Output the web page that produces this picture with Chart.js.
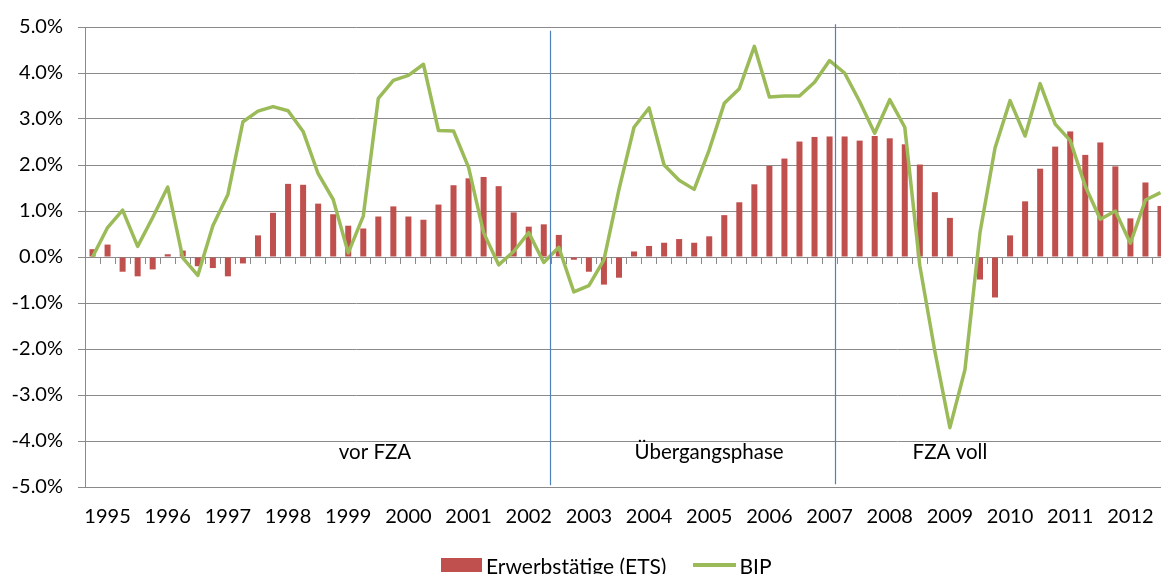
<!DOCTYPE html>
<html><head><meta charset="utf-8">
<script src="https://cdn.jsdelivr.net/npm/chart.js@4/dist/chart.umd.min.js"></script>
<style>
html,body{margin:0;padding:0;overflow:hidden;background:#fff;width:1161px;height:574px}
#wrap{position:relative;width:1180px;height:574px}
#legend{position:absolute;left:441px;top:555px;font-family:Lato,"Open Sans",sans-serif;font-size:21px;color:#000;white-space:nowrap;display:flex;align-items:center;height:20px}
#legend .box{display:inline-block;width:41px;height:14px;background:#C0504D;margin-right:4px}
#legend .ln{display:inline-block;width:43px;height:3.5px;background:#9BBB59;margin-left:27px;margin-right:3px}
</style></head>
<body>
<div id="wrap">
<canvas id="c" width="1180" height="574"></canvas>
<div id="legend"><span class="box"></span><span>Erwerbstätige (ETS)</span><span class="ln"></span><span>BIP</span></div>
</div>
<script>
const years = [1995,1996,1997,1998,1999,2000,2001,2002,2003,2004,2005,2006,2007,2008,2009,2010,2011,2012];
const quarterNames = ['Q1','Q2','Q3','Q4'];
const categories = [];
years.forEach(y => quarterNames.forEach(q => categories.push(y + ' ' + q)));

const ets = [
  0.17, 0.27, -0.32, -0.42,
  -0.27, 0.06, 0.14, -0.20,
  -0.24, -0.42, -0.14, 0.47,
  0.96, 1.59, 1.57, 1.16,
  0.93, 0.68, 0.62, 0.88,
  1.10, 0.88, 0.81, 1.14,
  1.56, 1.71, 1.74, 1.54,
  0.97, 0.66, 0.71, 0.48,
  -0.06, -0.32, -0.60, -0.45,
  0.12, 0.24, 0.31, 0.39,
  0.31, 0.45, 0.91, 1.19,
  1.58, 1.98, 2.14, 2.51,
  2.61, 2.62, 2.62, 2.53,
  2.63, 2.58, 2.45, 2.01,
  1.41, 0.85, 0.00, -0.49,
  -0.88, 0.47, 1.21, 1.92,
  2.40, 2.73, 2.22, 2.49,
  1.97, 0.84, 1.62, 1.11
];
const bip = [
  0.00, 0.64, 1.02, 0.23,
  0.86, 1.52, -0.02, -0.40,
  0.68, 1.36, 2.94, 3.17,
  3.27, 3.18, 2.73, 1.81,
  1.25, 0.09, 0.89, 3.45,
  3.84, 3.95, 4.19, 2.75,
  2.74, 1.95, 0.53, -0.17,
  0.12, 0.53, -0.12, 0.21,
  -0.76, -0.62, -0.06, 1.47,
  2.82, 3.24, 2.00, 1.67,
  1.47, 2.33, 3.34, 3.66,
  4.58, 3.48, 3.50, 3.50,
  3.80, 4.27, 4.00, 3.38,
  2.69, 3.42, 2.82, -0.19,
  -2.05, -3.71, -2.45, 0.53,
  2.37, 3.40, 2.63, 3.77,
  2.89, 2.53, 1.54, 0.82,
  1.00, 0.30, 1.24, 1.40
];
const yTickValues = [-5,-4,-3,-2,-1,0,1,2,3,4,5];
const phaseBreaks = [30.42, 49.39];          // category index positions (June 2002, June 2007)
const phaseBreakTop = [4.92, 5.06];
const phaseBreakBottom = [-4.96, -4.94];
const phaseNames = ['vor FZA', 'Übergangsphase', 'FZA voll'];
const phaseNamePos = [18.78, 40.99, 57.0];
const phaseNameY = -4.25;

const FONT = 'Lato, "Open Sans", sans-serif';
const GRID = '#8a8a8a';

const phasePlugin = {
  id: 'phases',
  afterDatasetsDraw(chart) {
    const ctx = chart.ctx, xs = chart.scales.x, ys = chart.scales.y;
    ctx.save();
    ctx.strokeStyle = '#4F81BD';
    ctx.lineWidth = 1.2;
    phaseBreaks.forEach((p, i) => {
      const x = Math.round(xs.getPixelForValue(p)) + 0.5;
      ctx.beginPath();
      ctx.moveTo(x, ys.getPixelForValue(phaseBreakTop[i]));
      ctx.lineTo(x, ys.getPixelForValue(phaseBreakBottom[i]));
      ctx.stroke();
    });
    ctx.fillStyle = '#000';
    ctx.font = '20.5px ' + FONT;
    ctx.textAlign = 'center';
    ctx.textBaseline = 'middle';
    phaseNames.forEach((n, i) => {
      ctx.fillText(n, xs.getPixelForValue(phaseNamePos[i]), ys.getPixelForValue(phaseNameY));
    });
    ctx.restore();
  }
};

new Chart(document.getElementById('c'), {
  data: {
    labels: categories,
    datasets: [
      { type: 'line', label: 'BIP', data: bip, borderColor: '#9BBB59', backgroundColor: '#9BBB59',
        borderWidth: 3.5, pointRadius: 0, tension: 0, order: 0, borderJoinStyle: 'round' },
      { type: 'bar', label: 'Erwerbstätige (ETS)', data: ets, backgroundColor: '#C0504D',
        borderWidth: 0, barPercentage: 0.4, categoryPercentage: 1, order: 1 }
    ]
  },
  options: {
    responsive: false,
    animation: false,
    devicePixelRatio: 1,
    layout: { padding: { top: 23, right: 12, bottom: 29.5, left: 0 } },
    plugins: { legend: { display: false }, tooltip: { enabled: false } },
    scales: {
      x: {
        type: 'category',
        offset: true,
        grid: { display: false, drawTicks: false },
        border: { display: true, color: GRID, width: 1 },
        ticks: {
          autoSkip: false, maxRotation: 0, minRotation: 0, padding: 18,
          color: '#000', font: { family: FONT, size: 20 },
          callback: (v, i) => (i % 4 === 1 ? String(years[Math.floor(i / 4)]) : '')
        },
        afterFit: s => { s.height = 57.5; }
      },
      x0: {
        type: 'category',
        position: { y: 0 },
        offset: true,
        grid: { offset: true, drawOnChartArea: false, drawTicks: true, tickLength: 6, color: GRID, lineWidth: 1 },
        border: { display: true, color: GRID, width: 1 },
        ticks: { display: false }
      },
      y: {
        min: -5, max: 5,
        afterBuildTicks: s => { s.ticks = yTickValues.map(v => ({ value: v })); },
        grid: { color: GRID, lineWidth: 1, tickLength: 7, drawTicks: true },
        border: { display: true, color: GRID, width: 1 },
        ticks: {
          padding: 15, color: '#000', font: { family: FONT, size: 20 },
          callback: v => v.toFixed(1) + '%'
        },
        afterFit: s => { s.width = 85; }
      }
    }
  },
  plugins: [phasePlugin]
});
</script>
</body></html>
